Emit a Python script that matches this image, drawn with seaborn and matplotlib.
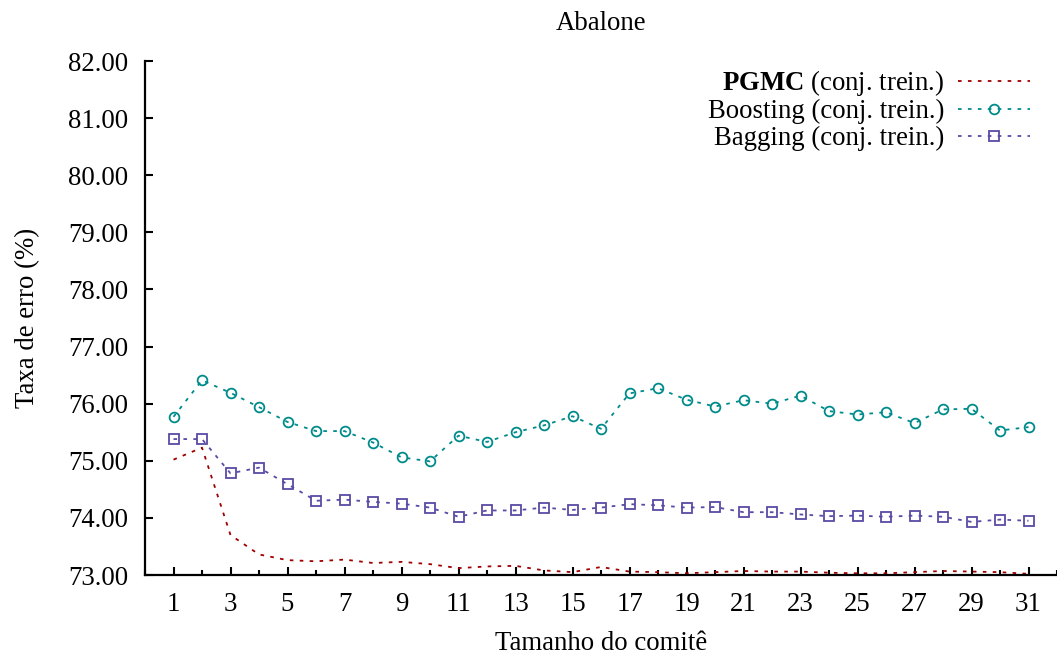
import matplotlib
matplotlib.use("Agg")
import matplotlib.pyplot as plt
import seaborn as sns
import numpy as np
import pandas as pd
from matplotlib.ticker import MultipleLocator, FormatStrFormatter

# ---- data ----
committee = list(range(1, 32))
pgmc = [75.02, 75.23, 73.70, 73.36, 73.26, 73.24, 73.27, 73.21, 73.23, 73.19,
        73.12, 73.15, 73.16, 73.08, 73.05, 73.14, 73.06, 73.05, 73.03, 73.05,
        73.07, 73.06, 73.06, 73.04, 73.03, 73.03, 73.05, 73.07, 73.06, 73.05, 73.02]
boosting = [75.77, 76.41, 76.19, 75.94, 75.68, 75.52, 75.52, 75.32, 75.06, 74.99,
            75.44, 75.33, 75.50, 75.62, 75.78, 75.56, 76.18, 76.27, 76.07, 75.95,
            76.06, 76.00, 76.14, 75.87, 75.81, 75.85, 75.66, 75.90, 75.91, 75.53, 75.59]
bagging = [75.38, 75.38, 74.78, 74.88, 74.59, 74.30, 74.32, 74.28, 74.25, 74.18,
           74.02, 74.13, 74.13, 74.18, 74.14, 74.18, 74.24, 74.22, 74.18, 74.19,
           74.10, 74.10, 74.06, 74.03, 74.04, 74.02, 74.04, 74.02, 73.93, 73.97, 73.95]
labels = [r"$\mathbf{PGMC}$ (conj. trein.)", "Boosting (conj. trein.)", "Bagging (conj. trein.)"]
xticks = list(range(1, 32, 2))

sns.set_theme(style="ticks")
plt.rcParams["font.family"] = ["Liberation Serif", "DejaVu Serif"]
plt.rcParams["mathtext.fontset"] = "custom"
plt.rcParams["mathtext.rm"] = "Liberation Serif"
plt.rcParams["mathtext.bf"] = "Liberation Serif:bold"
plt.rcParams["text.color"] = "black"
plt.rcParams["axes.labelcolor"] = "black"

FS = 19.3

fig = plt.figure(figsize=(10.57, 6.58), dpi=100)
ax = fig.add_axes([145 / 1057, 1 - 575 / 658, 1 - 145 / 1057, (575 - 61) / 658])

dash = (2, 3.5)
sns.lineplot(x=committee, y=pgmc, ax=ax, color="#a00000", lw=1.3,
             label=labels[0])
sns.lineplot(x=committee, y=boosting, ax=ax, color="#008b8b", lw=1.3,
             marker="o", markersize=7, markerfacecolor="none",
             markeredgecolor="#008b8b", markeredgewidth=1.3, label=labels[1])
sns.lineplot(x=committee, y=bagging, ax=ax, color="#5a4aa5", lw=1.3,
             marker="s", markersize=7, markerfacecolor="none",
             markeredgecolor="#5a4aa5", markeredgewidth=1.3, label=labels[2])
for ln in ax.get_lines():
    ln.set_linestyle((0, dash))

ax.set_xlim(0, 32)
ax.set_ylim(73, 82)
ax.set_xticks(xticks)
ax.xaxis.set_minor_locator(MultipleLocator(2))
ax.yaxis.set_major_locator(MultipleLocator(1))
ax.yaxis.set_major_formatter(FormatStrFormatter("%.2f"))

sns.despine(ax=ax)
for s in ["left", "bottom"]:
    ax.spines[s].set_linewidth(1.6)
    ax.spines[s].set_color("black")

ax.tick_params(axis="both", which="major", direction="in", length=6, width=1.5,
               labelsize=FS, colors="black")
ax.tick_params(axis="x", which="major", pad=12)
ax.tick_params(axis="x", which="minor", direction="in", length=3.5, width=1.5,
               colors="black")
ax.tick_params(axis="y", which="minor", length=0)
ax.tick_params(axis="y", which="major", pad=12)

ax.set_xlabel("Tamanho do comitê", fontsize=FS, labelpad=10, color="black")
ax.set_ylabel("Taxa de erro (%)", fontsize=FS, labelpad=20, color="black")
ax.set_title("Abalone", fontsize=FS, pad=22, color="black")

leg = ax.legend(loc="upper right", bbox_to_anchor=(1030 / 1057, 1 - 68 / 658),
                bbox_transform=fig.transFigure, markerfirst=False, frameon=False,
                fontsize=FS, handlelength=2.7, handletextpad=0.5,
                labelspacing=0.05, borderpad=0, borderaxespad=0,
                labelcolor="black")
for h in leg.legend_handles:
    h.set_linestyle((0, dash))

fig.savefig("out.png", dpi=100)
